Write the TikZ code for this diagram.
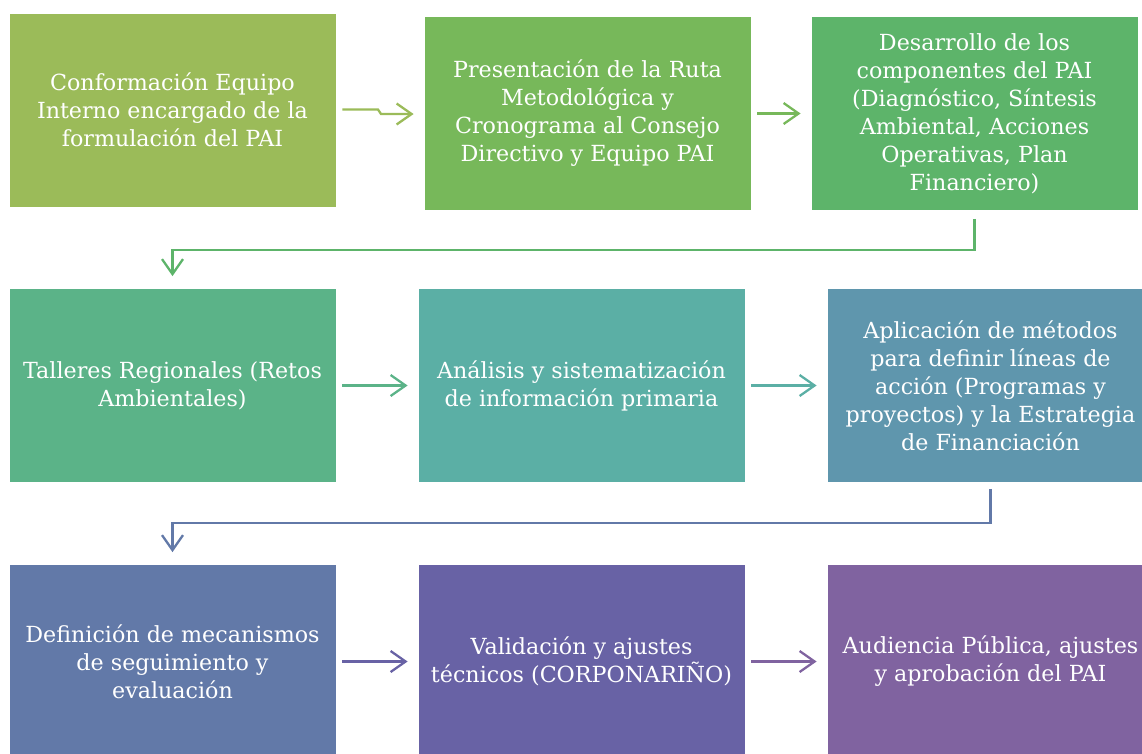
\documentclass[tikz,border=0pt]{standalone}
\usepackage{fontspec}
\setmainfont{DejaVu Serif}
\usetikzlibrary{arrows.meta}
\definecolor{c1}{HTML}{9BBB59}
\definecolor{c2}{HTML}{77B85A}
\definecolor{c3}{HTML}{5DB46A}
\definecolor{c4}{HTML}{5BB388}
\definecolor{c5}{HTML}{5BAFA5}
\definecolor{c6}{HTML}{5F96AD}
\definecolor{c7}{HTML}{6279A8}
\definecolor{c8}{HTML}{6862A5}
\definecolor{c9}{HTML}{8063A0}
\tikzset{
  stepbox/.style={rectangle, draw=white, line width=0.8pt, minimum width=327pt, minimum height=194pt,
    inner sep=0pt, align=center, text=white, font=\fontsize{22.2}{28}\selectfont},
  flow/.style={line width=2.3pt, -{Straight Barb[length=15pt,width=21pt,line width=2.3pt]}},
}
\begin{document}
\begin{tikzpicture}[x=1pt,y=-1pt]
\useasboundingbox (0,0) rectangle (1142,753);
\node[stepbox, fill=c1] (b1) at (172.5,110) {Conformación Equipo\\Interno encargado de la\\formulación del PAI};
\node[stepbox, fill=c2] (b2) at (587.5,113.5) {Presentación de la Ruta\\Metodológica y\\Cronograma al Consejo\\Directivo y Equipo PAI};
\node[stepbox, fill=c3] (b3) at (974.5,113.5) {Desarrollo de los\\componentes del PAI\\(Diagnóstico, Síntesis\\Ambiental, Acciones\\Operativas, Plan\\Financiero)};
\node[stepbox, fill=c4] (b4) at (172.5,385.5) {Talleres Regionales (Retos\\Ambientales)};
\node[stepbox, fill=c5] (b5) at (581.5,385.5) {Análisis y sistematización\\de información primaria};
\node[stepbox, fill=c6] (b6) at (990.5,385.5) {Aplicación de métodos\\para definir líneas de\\acción (Programas y\\proyectos) y la Estrategia\\de Financiación};
\node[stepbox, fill=c7] (b7) at (172.5,661.5) {Definición de mecanismos\\de seguimiento y\\evaluación};
\node[stepbox, fill=c8] (b8) at (581.5,661.5) {Validación y ajustes\\técnicos (CORPONARIÑO)};
\node[stepbox, fill=c9] (b9) at (990.5,661.5) {Audiencia Pública, ajustes\\y aprobación del PAI};

% row 1
\coordinate (j1) at (378,109.5);
\draw[flow, c1] ([xshift=6pt,yshift=0.5pt]b1.east) -- (j1) -- ++(3,4.5) -- ([xshift=-10pt,yshift=-0.5pt]b2.west);
\draw[flow, c2] ([xshift=6pt]b2.east) -- ([xshift=-10pt]b3.west);
% row 1 -> row 2
\draw[flow, c3, line join=miter] ([yshift=-8pt]b3.south) -- ++(0,31) -| ([yshift=12pt]b4.north);
% row 2
\draw[flow, c4] ([xshift=6pt]b4.east) -- ([xshift=-10pt]b5.west);
\draw[flow, c5] ([xshift=6pt]b5.east) -- ([xshift=-10pt]b6.west);
% row 2 -> row 3
\draw[flow, c7, line join=miter] ([yshift=-6pt]b6.south) -- ++(0,34) -| ([yshift=12pt]b7.north);
% row 3
\draw[flow, c8] ([xshift=6pt]b7.east) -- ([xshift=-10pt]b8.west);
\draw[flow, c9] ([xshift=6pt]b8.east) -- ([xshift=-10pt]b9.west);
\end{tikzpicture}
\end{document}
